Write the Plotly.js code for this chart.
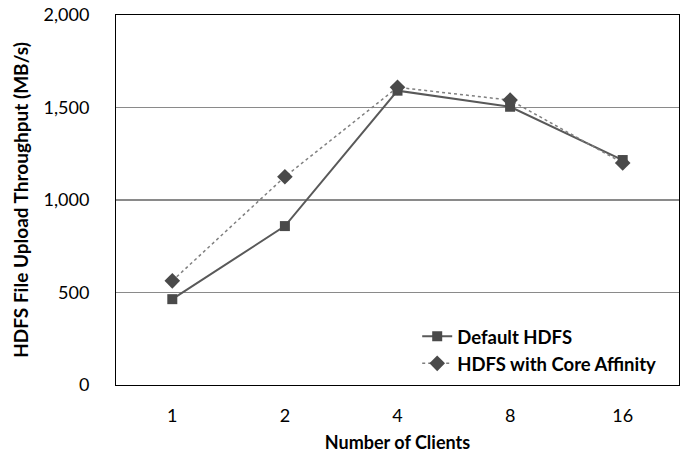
<!DOCTYPE html>
<html>
<head>
<meta charset="utf-8">
<script src="https://cdn.plot.ly/plotly-3.0.1.min.js"></script>
<style>html,body{margin:0;padding:0;background:#fff;}#chart{width:686px;height:455px;}</style>
</head>
<body>
<div id="chart"></div>
<script>
const clients = ["1", "2", "4", "8", "16"];
const defaultHDFS = [464, 859, 1591, 1504, 1216];
const coreAffinity = [563, 1126, 1609, 1540, 1200];
const yTicks = [0, 500, 1000, 1500, 2000];

const font = "Lato, 'Open Sans', sans-serif";

const traces = [
  {
    x: clients, y: defaultHDFS, name: "Default HDFS", type: "scatter", mode: "lines+markers",
    line: {color: "#595959", width: 2, dash: "solid"},
    marker: {symbol: "square", size: 10, color: "#4a4a4a"}
  },
  {
    x: clients, y: coreAffinity, name: "HDFS with Core Affinity", type: "scatter", mode: "lines+markers",
    line: {color: "#7f7f7f", width: 1.5, dash: "dot"},
    marker: {symbol: "diamond", size: 12, color: "#4a4a4a"}
  }
];

const layout = {
  width: 686, height: 455,
  margin: {l: 116, r: 7, t: 15, b: 70},
  paper_bgcolor: "#fff", plot_bgcolor: "#fff",
  font: {family: font, size: 18, color: "#000"},
  showlegend: true,
  legend: {
    x: 0.535, xanchor: "left", y: 0.006, yanchor: "bottom",
    bgcolor: "rgba(0,0,0,0)", borderwidth: 0,
    font: {family: font, size: 18.5, color: "#000", weight: "bold"},
    tracegroupgap: 0, itemwidth: 30
  },
  xaxis: {
    type: "category", range: [-0.5, 4.5],
    showline: true, linecolor: "#000", linewidth: 1, mirror: true,
    showgrid: false, ticks: "", zeroline: false,
    ticklabelstandoff: 14,
    tickfont: {family: font, size: 18, color: "#000"},
    title: {text: "Number of Clients", font: {family: font, size: 18, color: "#000", weight: "bold"}, standoff: 11}
  },
  yaxis: {
    range: [0, 2000], tickvals: yTicks, tickformat: ",d",
    showline: true, linecolor: "#000", linewidth: 1, mirror: true,
    showgrid: true, gridcolor: "#8a8a8a", gridwidth: 1.5, zeroline: false,
    ticks: "", ticklen: 0, ticklabelstandoff: 22,
    tickfont: {family: font, size: 18, color: "#000"},
    title: {text: "HDFS File Upload Throughput (MB/s)", font: {family: font, size: 19, color: "#000", weight: "bold"}, standoff: 9}
  }
};

Plotly.newPlot("chart", traces, layout, {displayModeBar: false, staticPlot: true});
</script>
</body>
</html>
